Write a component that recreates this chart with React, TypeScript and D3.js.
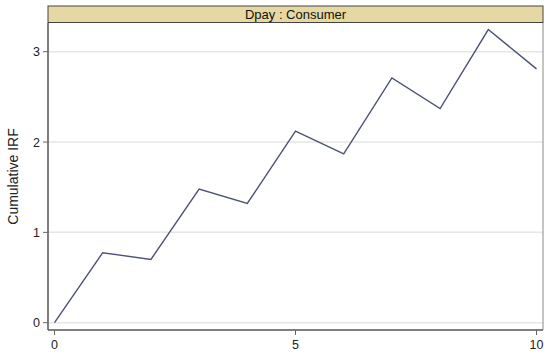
import React from 'react';
import * as d3 from 'd3';

// cumulative impulse response
const steps = [0, 1, 2, 3, 4, 5, 6, 7, 8, 9, 10];
const irf = [0, 0.775, 0.7, 1.48, 1.32, 2.12, 1.87, 2.71, 2.37, 3.245, 2.81];
const yTicks = [0, 1, 2, 3];
const xTicks = [0, 5, 10];
const panelTitle = 'Dpay : Consumer';
const yTitle = 'Cumulative IRF';

const W = 550, H = 358;
const frame = { left: 48, right: 543, top: 23, bottom: 330 };

export default function App() {
  const x = d3.scaleLinear().domain([0, 10]).range([54.5, 536.5]);
  const y = d3.scaleLinear().domain([0, 3]).range([322.7, 51.7]);

  const line = d3.line<number>()
    .x((d, i) => x(steps[i]))
    .y(d => y(d));

  const font = 'Arial, "Liberation Sans", sans-serif';

  return (
    <svg width={W} height={H} style={{ position: 'absolute', left: 0, top: 0 }}>
      <rect width={W} height={H} fill="#fff" />
      {/* gridlines */}
      {yTicks.map(t => (
        <line key={'g' + t} x1={frame.left} x2={frame.right} y1={y(t)} y2={y(t)}
          stroke="#e6e6e6" strokeWidth={1.5} />
      ))}
      {/* frame */}
      <line x1={frame.right} x2={frame.right} y1={frame.top} y2={frame.bottom} stroke="#8a8a8a" strokeWidth={1} />
      <line x1={frame.left} x2={frame.left} y1={frame.top} y2={frame.bottom} stroke="#555" strokeWidth={1.5} />
      <line x1={frame.left} x2={frame.right} y1={frame.bottom} y2={frame.bottom} stroke="#555" strokeWidth={1.5} />
      {/* title bar */}
      <rect x={frame.left} y={6} width={frame.right - frame.left} height={16.5}
        fill="#e6d8a2" stroke="#444" strokeWidth={1} />
      <text x={(frame.left + frame.right) / 2} y={19} textAnchor="middle"
        fontFamily={font} fontSize={13} fill="#111">{panelTitle}</text>
      {/* y axis */}
      {yTicks.map(t => (
        <g key={'y' + t}>
          <line x1={frame.left - 5} x2={frame.left} y1={y(t)} y2={y(t)} stroke="#666" />
          <text x={frame.left - 8} y={y(t) + 4.5} textAnchor="end"
            fontFamily={font} fontSize={12.5} fill="#222">{t}</text>
        </g>
      ))}
      <text transform={`translate(18,${(frame.top + frame.bottom) / 2}) rotate(-90)`}
        textAnchor="middle" fontFamily={font} fontSize={14} fill="#222">{yTitle}</text>
      {/* x axis */}
      {xTicks.map(t => (
        <g key={'x' + t}>
          <line x1={x(t)} x2={x(t)} y1={frame.bottom} y2={frame.bottom + 5} stroke="#666" />
          <text x={x(t)} y={frame.bottom + 19} textAnchor="middle"
            fontFamily={font} fontSize={12.5} fill="#222">{t}</text>
        </g>
      ))}
      {/* IRF line */}
      <path d={line(irf) || ''} fill="none" stroke="#4b5277" strokeWidth={1.4} />
    </svg>
  );
}
